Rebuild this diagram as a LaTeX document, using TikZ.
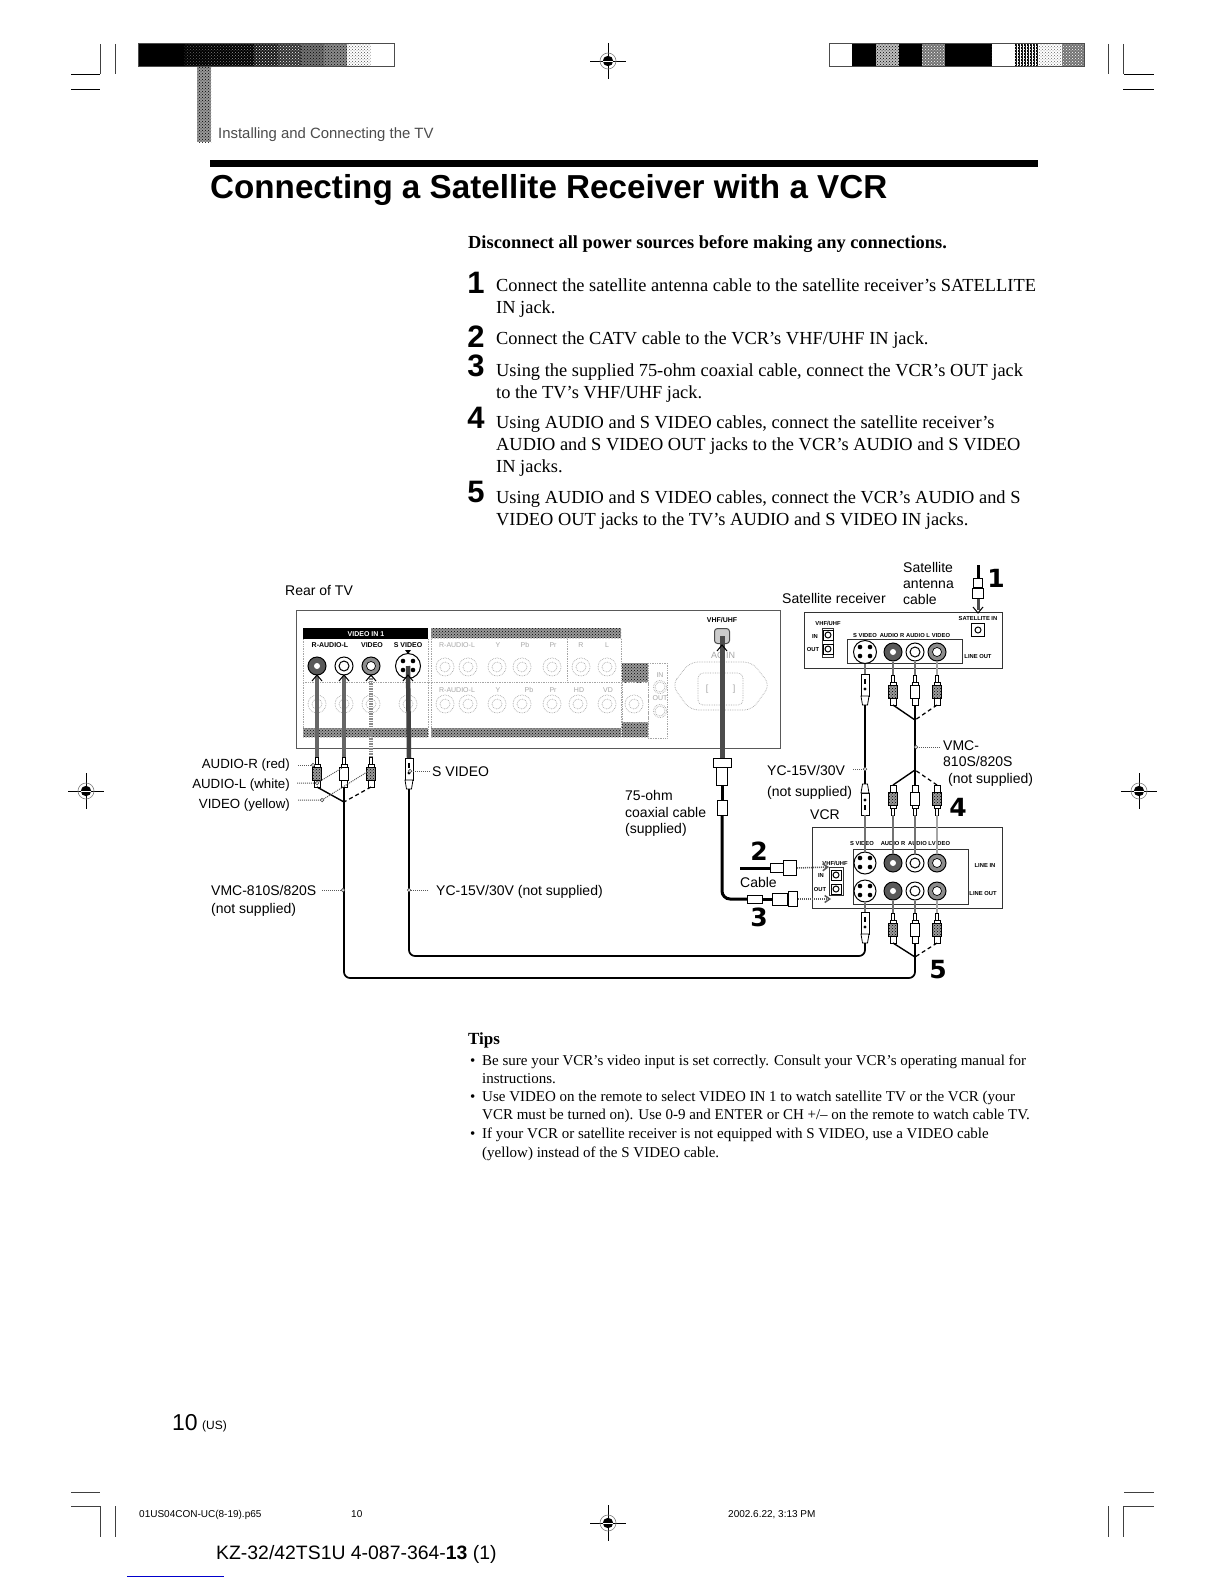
\documentclass[tikz,border=0pt]{standalone}
\usepackage{fontspec}
\setmainfont{Liberation Serif}
\newfontfamily\sansf{Liberation Sans}
\newfontfamily\heavyf{DejaVu Sans}
\usetikzlibrary{patterns,arrows.meta,calc}
\newcommand{\fs}[1]{\fontsize{#1}{#1}\selectfont}
\tikzset{
 body/.style={font=\fs{18.4},inner sep=0,anchor=mid west,yshift=-4pt},
 tipt/.style={font=\fs{15},inner sep=0,anchor=mid west,yshift=-3pt},
 lbl/.style={font=\sansf\fs{14},inner sep=0,anchor=mid west,yshift=-3.5pt},
 lblr/.style={font=\sansf\fs{13.3},inner sep=0,anchor=mid east,yshift=-3.5pt},
 micro/.style={font=\sansf\bfseries\fs{7},inner sep=0,anchor=center},
 microb/.style={font=\sansf\bfseries\fs{5.8},inner sep=0,anchor=center},
 ghosttext/.style={font=\sansf\fs{7},text=gray!70,inner sep=0,anchor=center},
 stepnum/.style={font=\sansf\bfseries\fs{31},inner sep=0,anchor=center},
 bignum/.style={font=\heavyf\bfseries\fs{25},inner sep=0,anchor=center},
 crop/.style={draw=gray!50!black,line width=0.8pt},
 ghost/.style={draw=gray!70,densely dotted,line width=0.7pt},
 panelbox/.style={draw=black!65,line width=0.9pt},
 devbox/.style={draw=black!80,line width=0.9pt},
 hatchfill/.style={fill=black!40,postaction={pattern=crosshatch dots,pattern color=black}},
 grcable/.style={draw=black!60,line width=4.5pt},
 grcableb/.style={draw=black!55,line width=2.5pt},
 ycable/.style={draw=black!45,line width=4.5pt,dash pattern=on 1.5pt off 1pt},
 blk/.style={draw=black,line width=1.7pt,rounded corners=6pt},
 branch/.style={draw=black,line width=1.4pt},
 coaxl/.style={draw=black,line width=3pt,rounded corners=8pt},
 leader/.style={draw=black!65,line width=1pt,densely dotted},
 dashbr/.style={draw=black,line width=1.2pt,dash pattern=on 4pt off 3pt},
 plugline/.style={draw=black,line width=0.8pt},
 whitebody/.style={fill=white},
 darkbody/.style={hatchfill},
 jackdark/.style={circle,draw=black,line width=1pt,minimum size=18pt,inner sep=0,fill=black!65,path picture={\fill[white] (path picture bounding box.center) circle (3pt);}},
 jackwhite/.style={circle,draw=black,line width=1pt,minimum size=18pt,inner sep=0,fill=white,path picture={\draw[line width=1pt] (path picture bounding box.center) circle (5pt);}},
 jackmid/.style={circle,draw=black,line width=1pt,minimum size=18pt,inner sep=0,fill=black!45,path picture={\fill[white] (path picture bounding box.center) circle (4.5pt);\draw[line width=.7pt] (path picture bounding box.center) circle (4.5pt);}},
 jackghost/.style={circle,ghost,minimum size=18pt,inner sep=0,path picture={\draw[ghost] (path picture bounding box.center) circle (5pt);}},
 jacks/.style={circle,draw=black,line width=1pt,minimum size=25pt,inner sep=0,fill=white,path picture={\foreach \a/\b in {-5/-5,5/-5,-5/4,5/4}{\fill[black] ($(path picture bounding box.center)+(\a,\b)$) circle (2.3pt);}}},
 jacktiny/.style={rectangle,draw=black,line width=0.8pt,minimum size=10pt,inner sep=0,path picture={\draw[line width=1pt] (path picture bounding box.center) circle (3pt);}},
 dotend/.style={circle,draw=black!70,fill=white,line width=.7pt,minimum size=3.5pt,inner sep=0},
 coaxpart/.style={draw=black,fill=white,line width=1pt,inner sep=0},
}
\newcommand{\rcaplug}[5]{%
\begin{scope}[shift={(#2,#3)},yscale=#4]
\coordinate (#1tip) at (0,0);
\coordinate (#1end) at (0,30);
\draw[plugline,fill=white] (-1.5,0) rectangle (1.5,7);
\draw[plugline,fill=white] (-3,7) rectangle (3,10);
\draw[plugline,#5] (-4.5,10) rectangle (4.5,23);
\draw[plugline,fill=white] (-3,23) rectangle (3,30);
\end{scope}}
\newcommand{\splug}[4]{%
\begin{scope}[shift={(#2,#3)},yscale=#4]
\coordinate (#1tip) at (0,0);
\coordinate (#1end) at (0,31);
\draw[plugline,fill=white] (-4,0) rectangle (4,22);
\fill[black] (-1,5) rectangle (1,10);
\fill[black] (0,15) circle (1.6);
\draw[plugline,fill=white] (-4,22) -- (4,22) -- (2.5,31) -- (-2.5,31) -- cycle;
\end{scope}}
\newcommand{\chev}[3]{\draw[black,line width=1pt] (#1-5,#2+#3*6) -- (#1,#2) -- (#1+5,#2+#3*6);}
\newcommand{\target}[2]{%
\draw[black,line width=.8pt] (#1-18,#2) -- (#1+18,#2) (#1,#2-18) -- (#1,#2+18);
\draw[gray,line width=.6pt] (#1,#2) circle (8);
\fill[black] (#1,#2) circle (5.2);
\draw[white,line width=.5pt] (#1-5,#2) -- (#1+5,#2);}
\begin{document}
\begin{tikzpicture}[x=1pt,y=-1pt]
\useasboundingbox (0,0) rectangle (1224,1584);
\fill[white] (0,0) rectangle (1224,1584);
% crop marks
\draw[crop,draw=black] (71,74) -- (100,74) (71,89) -- (100,89) (1124,74) -- (1154,74) (1123,89) -- (1154,89);
\draw[crop] (100,74) -- (100,44) (115,44) -- (115,74) (1123,44) -- (1123,74) (1108,44) -- (1108,74);
\draw[crop] (71,1492) -- (100,1492) (71,1506) -- (100,1506) -- (100,1537) (115,1506) -- (115,1537);
\draw[crop] (1124,1492) -- (1154,1492) (1123,1506) -- (1154,1506) (1123,1506) -- (1123,1537) (1108,1506) -- (1108,1537);
\target{608}{61}\target{86}{791}\target{1139}{791}\target{608}{1523}
% header bars
\foreach \i/\c/\p in {0/black/black,1/black/black,2/black/black!60,3/black/black!50,4/black/black!40,5/black!90/white,6/black!80/white,7/black!55/black,8/black!45/black,9/white/black!70,10/white/white}{
  \fill[\c] ({138+\i*23.27},44) rectangle ++(23.27,23);
  \fill[pattern=crosshatch dots,pattern color=\p] ({138+\i*23.27},44) rectangle ++(23.27,23);}
\draw[black!70,line width=1pt] (138,44) rectangle (394,67);
\foreach \i/\c/\p in {0/white/white,1/black/black,2/black!25/black,3/black/black,4/black!55/white,5/black/black,6/black/black,7/white/white,8/black/white,9/white/black!60,10/black!55/white}{
  \fill[\c] ({829+\i*23.27},44) rectangle ++(23.27,23);
  \fill[pattern=crosshatch dots,pattern color=\p] ({829+\i*23.27},44) rectangle ++(23.27,23);}
\fill[white,pattern=vertical lines,pattern color=white] (1015.2,44) rectangle ++(23.27,23);
\draw[black!70,line width=1pt] (829,44) rectangle (1084,67);
\fill[hatchfill] (197,67) rectangle (211,142);
\node[font=\sansf\fs{14.9},text=black!70,inner sep=0,anchor=mid west,yshift=-3pt] (section) at (218,133) {Installing and Connecting the TV};
\fill[black] (210,160) rectangle (1038,167);
\node[font=\sansf\bfseries\fs{33.2},inner sep=0,anchor=mid west,yshift=-9pt] (title) at (210,187) {Connecting a Satellite Receiver with a VCR};
% instructions
\node[body,font=\bfseries\fs{18.4}] (warn) at (468,242) {Disconnect all power sources before making any connections.};
\node[stepnum] (s1) at (476,283) {1};
\node[stepnum] (s2) at (476,337) {2};
\node[stepnum] (s3) at (476,366) {3};
\node[stepnum] (s4) at (476,418) {4};
\node[stepnum] (s5) at (476,492) {5};
\node[body] (b1a) at (496,285) {Connect the satellite antenna cable to the satellite receiver’s SATELLITE};
\node[body] (b1b) at (496,307) {IN jack.};
\node[body] (b2a) at (496,338) {Connect the CATV cable to the VCR’s VHF/UHF IN jack.};
\node[body] (b3a) at (496,370) {Using the supplied 75-ohm coaxial cable, connect the VCR’s OUT jack};
\node[body] (b3b) at (496,392) {to the TV’s VHF/UHF jack.};
\node[body] (b4a) at (496,422) {Using AUDIO and S VIDEO cables, connect the satellite receiver’s};
\node[body] (b4b) at (496,444) {AUDIO and S VIDEO OUT jacks to the VCR’s AUDIO and S VIDEO};
\node[body] (b4c) at (496,466) {IN jacks.};
\node[body] (b5a) at (496,497) {Using AUDIO and S VIDEO cables, connect the VCR’s AUDIO and S};
\node[body] (b5b) at (496,519) {VIDEO OUT jacks to the TV’s AUDIO and S VIDEO IN jacks.};
% ---------- TV panel
\node[lbl] (rear) at (285,590) {Rear of TV};
\draw[panelbox] (296,610) rectangle (780,748);
\fill[black] (303,628) rectangle (428,639);
\node[micro,text=white] (vin) at (366,634) {VIDEO IN 1};
\fill[hatchfill] (431,628) rectangle (621,638);
\fill[hatchfill] (303,728) rectangle (428,737);
\fill[hatchfill] (431,728) rectangle (621,737);
\draw[ghost] (303,639) -- (303,737) (428,639) -- (428,737) (431,639) -- (431,737) (621,639) -- (621,737);
\draw[ghost] (303,682) -- (621,682) (567,639) -- (567,682);
\fill[hatchfill] (622,663) rectangle (648,682);
\fill[hatchfill] (622,722) rectangle (648,737);
\draw[ghost] (622,682) rectangle (648,722);
\draw[ghost] (648,663) rectangle (667,738);
\node[micro] (tr) at (330,645) {R-AUDIO-L};
\node[micro] (tv) at (372,645) {VIDEO};
\node[micro] (ts) at (408,645) {S VIDEO};
\foreach \n/\x/\t in {a1/457/R-AUDIO-L,a2/498/Y,a3/525/Pb,a4/553/Pr,a5/581/R,a6/607/L}{\node[ghosttext] (\n) at (\x,645) {\t};}
\foreach \n/\x/\t in {c1/457/R-AUDIO-L,c2/498/Y/G,c3/529/Pb/B,c4/553/Pr/R,c5/579/HD,c6/608/VD}{\node[ghosttext] (\n) at (\x,690) {\t};}
\node[ghosttext] (tin) at (660,675) {IN};
\node[ghosttext] (tout) at (660,698) {OUT};
\foreach \n/\x in {d1/317,d2/344,d3/371,d4/408,d5/445,d6/468,d7/497,d8/522,d9/552,d10/578,d11/607,d12/634}{\node[jackghost] (\n) at (\x,704) {};}
\foreach \n/\x in {e1/445,e2/468,e3/497,e4/522,e5/552,e6/581,e7/607}{\node[jackghost] (\n) at (\x,667) {};}
\node[jackghost,minimum size=13pt] (f1) at (660,687) {};
\node[jackghost,minimum size=13pt] (f2) at (660,711) {};
% AC IN
\draw[ghost,rounded corners=8pt] (672,685) -- (690,662) -- (752,662) -- (770,685) -- (752,710) -- (690,710) -- cycle;
\draw[ghost,rounded corners=5pt] (698,673) rectangle (743,705);
\node[ghosttext,font=\sansf\fs{9}] (acin) at (723,655) {AC IN};
\node[ghosttext,font=\sansf\fs{9}] (acl) at (707,689) {[};
\node[ghosttext,font=\sansf\fs{9}] (acr) at (734,689) {]};
% TV live jacks
\node[jackdark] (tvR) at (317,666) {};
\node[jackwhite] (tvL) at (344,666) {};
\node[jackmid] (tvV) at (371,666) {};
\node[jacks] (tvS) at (408,666) {};
\fill[black] (405,650) -- (411,650) -- (408,654) -- cycle;
\node[draw=black!70,fill=black!20,line width=1pt,rounded corners=3pt,minimum size=15pt,inner sep=0] (tvVHF) at (722,636) {};
\node[micro] (tvh) at (722,620) {VHF/UHF};
% plugs (tip first)
\rcaplug{pA}{317}{757}{1}{darkbody}
\rcaplug{pB}{344}{757}{1}{whitebody}
\rcaplug{pC}{371}{757}{1}{darkbody}
\splug{pS}{409}{758}{1}
\coordinate (tvJ) at (344,802);
% TV side cables
\draw[grcable] (tvR.south) -- (pAtip);
\draw[grcable] (tvL.south) -- (pBtip);
\draw[ycable] (tvV.south) -- (pCtip);
\draw[grcable,draw=black!75] (tvS.center) -- (pStip);
\chev{317}{675}{1}\chev{344}{675}{1}\chev{371}{675}{1}\chev{408}{675}{1}
\draw[branch] (pAend) -- (tvJ);
\draw[dashbr] (pCend) -- (tvJ);
\draw[branch] (pBend) -- (tvJ);
% coax from TV
\draw[grcable,line width=5pt,draw=black!70] (tvVHF.center) -- (722,758);
\chev{722}{645}{1}
\node[coaxpart,minimum width=18pt,minimum height=9pt] (nutT) at (722,763) {};
\node[coaxpart,minimum width=11pt,minimum height=18pt] (barT) at (722,776) {};
\node[coaxpart,minimum width=10pt,minimum height=15pt] (sleeve) at (722,808) {};
\node[coaxpart,minimum width=15pt,minimum height=8pt] (sleeve3) at (755,899) {};
\node[coaxpart,minimum width=15pt,minimum height=12pt] (bar3) at (780,899) {};
\node[coaxpart,minimum width=9pt,minimum height=15pt] (nut3) at (793,899) {};
\draw[coaxl] (barT.south) -- (sleeve.north);
\draw[coaxl] (sleeve.south) |- (sleeve3.west);
\draw[coaxl] (sleeve3.east) -- (bar3.west);
% cable 2
\coordinate (cab2) at (740,868);
\node[coaxpart,minimum width=13pt,minimum height=9pt] (bar2) at (777,868) {};
\node[coaxpart,minimum width=13pt,minimum height=15pt] (nut2) at (790,868) {};
\draw[coaxl] (cab2) -- (bar2.west);
% ---------- labels left
\node[lblr] (lAR) at (290,763) {AUDIO-R (red)};
\node[lblr] (lAL) at (290,783) {AUDIO-L (white)};
\node[lblr] (lVY) at (290,803) {VIDEO (yellow)};
\node[lbl] (lSV) at (432,771) {S VIDEO};
\node[lbl] (lVMC) at (211,890) {VMC-810S/820S};
\node[lbl] (lVMCb) at (211,908) {(not supplied)};
\node[lbl] (lYC) at (436,890) {YC-15V/30V (not supplied)};
\coordinate (stAR) at (298,765);  \coordinate (lkAR) at (313,765);
\coordinate (stAL) at (297,783);  \coordinate (lkAL) at (317,783);  \coordinate (lkALb) at (342,768);
\coordinate (stVY) at (298,800);  \coordinate (lkVY) at (322,800);  \coordinate (lkVYb) at (367,772);
\coordinate (stSV) at (430,771);  \coordinate (lkS) at (410,771);
\coordinate (stVMC) at (322,890); \coordinate (lkVMC) at (343,890);
\coordinate (stYC) at (428,890);  \coordinate (lkYC) at (409,890);
\draw[leader] (stAR) -- (lkAR);
\draw[leader] (stAL) -- (lkAL) -- (lkALb);
\draw[leader] (stVY) -- (lkVY) -- (lkVYb);
\draw[leader] (stSV) -- (lkS);
\draw[leader] (stVMC) -- (lkVMC);
\draw[leader] (stYC) -- (lkYC);
% ---------- Satellite receiver
\node[lbl] (lSat1) at (903,567) {Satellite};
\node[lbl] (lSat2) at (903,583) {antenna};
\node[lbl] (lSat3) at (903,599) {cable};
\node[lbl] (lSR) at (782,598) {Satellite receiver};
\node[bignum] (n1) at (996,578) {1};
\draw[devbox] (804,612) rectangle (1002,668);
\draw[devbox] (847,639) rectangle (962,663);
\draw[devbox] (822,628) rectangle (833,657);
\node[microb] (rV) at (828,623) {VHF/UHF};
\node[microb] (rI) at (815,636) {IN};
\node[microb] (rO) at (813,649) {OUT};
\node[jacktiny] (rJI) at (828,635) {};
\node[jacktiny] (rJO) at (828,649) {};
\node[microb] (rS) at (865,635) {S VIDEO};
\node[microb] (rAR) at (892,635) {AUDIO R};
\node[microb] (rAL) at (918,635) {AUDIO L};
\node[microb] (rVd) at (941,635) {VIDEO};
\node[microb] (rLO) at (978,656) {LINE OUT};
\node[microb] (rSI) at (978,618) {SATELLITE IN};
\node[jacktiny,minimum size=13pt] (rSat) at (978,630) {};
\node[jacks,minimum size=23pt] (rjS) at (865,652) {};
\node[jackdark] (rjR) at (893,652) {};
\node[jackwhite] (rjL) at (915,652) {};
\node[jackmid] (rjV) at (937,652) {};
% antenna
\coordinate (antTop) at (978,565);
\node[coaxpart,minimum width=9pt,minimum height=9pt] (antA) at (978,583) {};
\node[coaxpart,minimum width=11pt,minimum height=10pt] (antB) at (978,593) {};
\coordinate (antEnd) at (978,610);
\draw[black,line width=3pt] (antTop) -- (antA.north);
\draw[draw=black!70,line width=3pt] (antB.south) -- (antEnd);
\chev{978}{613}{-1}
% receiver plugs
\rcaplug{qA}{893}{675}{1}{darkbody}
\rcaplug{qB}{915}{675}{1}{whitebody}
\rcaplug{qC}{937}{675}{1}{darkbody}
\splug{qS}{865}{674}{1}
\coordinate (recJ) at (915,720);
\coordinate (inJ) at (915,770);
\draw[grcableb] (rjS.south) -- (qStip);
\draw[grcableb] (rjR.south) -- (qAtip);
\draw[grcableb] (rjL.south) -- (qBtip);
\draw[grcableb,draw=black!35] (rjV.south) -- (qCtip);
\draw[branch] (qAend) -- (recJ);
\draw[branch] (qBend) -- (recJ);
\draw[dashbr] (qCend) -- (recJ);
\draw[blk,rounded corners=0pt] (recJ) -- (inJ);
% labels right
\node[lbl] (lY1) at (767,770) {YC-15V/30V};
\node[lbl] (lY2) at (767,791) {(not supplied)};
\node[lbl] (lV1) at (943,745) {VMC-};
\node[lbl] (lV2) at (943,761) {810S/820S};
\node[lbl] (lV3) at (948,778) {(not supplied)};
\node[lbl] (l75a) at (625,795) {75-ohm};
\node[lbl] (l75b) at (625,812) {coaxial cable};
\node[lbl] (l75c) at (625,828) {(supplied)};
\node[lbl] (lVCR) at (810,814) {VCR};
\node[bignum] (n4) at (958,807) {4};
\node[bignum] (n2) at (759,851) {2};
\node[bignum] (n3) at (759,917) {3};
\node[bignum] (n5) at (938,970) {5};
\node[lbl] (lCab) at (740,882) {Cable};
\coordinate (stYr) at (853,769);  \coordinate (lkYr) at (865,769);
\coordinate (stVr) at (940,747);  \coordinate (lkVr) at (916,747);
\draw[leader] (stYr) -- (lkYr);
\draw[leader] (stVr) -- (lkVr);
% ---------- VCR
\draw[devbox,fill=white] (812,827) rectangle (1002,908);
\draw[devbox] (853,849) rectangle (968,904);
\draw[devbox] (829,867) rectangle (843,895);
\node[microb] (vS) at (862,843) {S VIDEO};
\node[microb] (vAR) at (893,843) {AUDIO R};
\node[microb] (vAL) at (920,843) {AUDIO L};
\node[microb] (vVd) at (941,843) {VIDEO};
\node[microb] (vLI) at (985,865) {LINE IN};
\node[microb] (vLO) at (983,893) {LINE OUT};
\node[microb] (vHF) at (835,863) {VHF/UHF};
\node[microb] (vI) at (821,875) {IN};
\node[microb] (vO) at (820,889) {OUT};
\node[jacktiny] (vJI) at (836,875) {};
\node[jacktiny] (vJO) at (836,889) {};
\node[jacks,minimum size=22pt] (vjS1) at (865,863) {};
\node[jacks,minimum size=22pt] (vjS2) at (865,891) {};
\node[jackdark] (vjR1) at (893,863) {};
\node[jackdark] (vjR2) at (893,891) {};
\node[jackwhite] (vjL1) at (915,863) {};
\node[jackwhite] (vjL2) at (915,891) {};
\node[jackmid] (vjV1) at (937,863) {};
\node[jackmid] (vjV2) at (937,891) {};
% VCR upper plugs
\rcaplug{uA}{893}{815}{-1}{darkbody}
\rcaplug{uB}{915}{815}{-1}{whitebody}
\rcaplug{uC}{937}{815}{-1}{darkbody}
\splug{uS}{865}{815}{-1}
\draw[grcableb] (uStip) -- (vjS1.north);
\draw[grcableb] (uAtip) -- (vjR1.north);
\draw[grcableb] (uBtip) -- (vjL1.north);
\draw[grcableb,draw=black!35] (uCtip) -- (vjV1.north);
\draw[branch] (uAend) -- (inJ);
\draw[branch] (uBend) -- (inJ);
\draw[dashbr] (uCend) -- (inJ);
\draw[blk,rounded corners=0pt] (qSend) -- (uSend);
% VCR lower plugs
\rcaplug{wA}{893}{913}{1}{darkbody}
\rcaplug{wB}{915}{913}{1}{whitebody}
\rcaplug{wC}{937}{913}{1}{darkbody}
\splug{wS}{865}{912}{1}
\coordinate (outJ) at (915,957);
\draw[grcableb] (vjS2.south) -- (wStip);
\draw[grcableb] (vjR2.south) -- (wAtip);
\draw[grcableb] (vjL2.south) -- (wBtip);
\draw[grcableb,draw=black!35] (vjV2.south) -- (wCtip);
\draw[branch] (wAend) -- (outJ);
\draw[branch] (wBend) -- (outJ);
\draw[dashbr] (wCend) -- (outJ);
% long return cables
\coordinate (busS) at (0,956);
\coordinate (busV) at (0,978);
\draw[blk] (pSend) -- (pSend |- busS) -- (wSend |- busS) -- (wSend);
\draw[blk] (tvJ) -- (tvJ |- busV) -- (outJ |- busV) -- (outJ);
% leader end dots
\foreach \c in {lkAR,lkAL,lkVY,lkS,lkVMC,lkYC,lkYr,lkVr}{\node[dotend] at (\c) {};}
% coax arrows
\coordinate (ar2) at (829,867);
\coordinate (ar3) at (831,899);
\draw[leader,line width=1.5pt,-{Straight Barb[length=5pt,width=7pt]}] (nut2.east) -- (ar2);
\draw[leader,line width=1.5pt,-{Straight Barb[length=5pt,width=7pt]}] (nut3.east) -- (ar3);
% ---------- tips
\node[body,font=\bfseries\fs{17}] (tips) at (468,1038) {Tips};
\foreach \n/\y in {t1/1060,t2/1096,t3/1133}{\node[tipt] (\n) at (470,\y) {•};}
\node[tipt] (ta) at (482,1060) {Be sure your VCR’s video input is set correctly. Consult your VCR’s operating manual for};
\node[tipt] (tb) at (482,1078) {instructions.};
\node[tipt] (tc) at (482,1096) {Use VIDEO on the remote to select VIDEO IN 1 to watch satellite TV or the VCR (your};
\node[tipt] (td) at (482,1114) {VCR must be turned on). Use 0-9 and ENTER or CH +/– on the remote to watch cable TV.};
\node[tipt] (te) at (482,1133) {If your VCR or satellite receiver is not equipped with S VIDEO, use a VIDEO cable};
\node[tipt] (tf) at (482,1152) {(yellow) instead of the S VIDEO cable.};
% ---------- footer
\node[lbl,font=\sansf\fs{23},yshift=-2.5pt] (pg) at (172,1422) {10};
\node[lbl,font=\sansf\fs{12}] (pgu) at (202,1424) {(US)};
\node[lbl,font=\sansf\fs{10},yshift=2pt] (f1a) at (139,1514) {01US04CON-UC(8-19).p65};
\node[lbl,font=\sansf\fs{10},yshift=2pt] (f2a) at (351,1514) {10};
\node[lbl,font=\sansf\fs{10},yshift=2pt] (f3a) at (728,1514) {2002.6.22, 3:13 PM};
\node[lbl,font=\sansf\fs{19.4}] (kz) at (216,1554) {KZ-32/42TS1U 4-087-364-\textbf{13} (1)};
\fill[blue!80!black] (127,1575.5) rectangle (224,1577);
\end{tikzpicture}
\end{document}
